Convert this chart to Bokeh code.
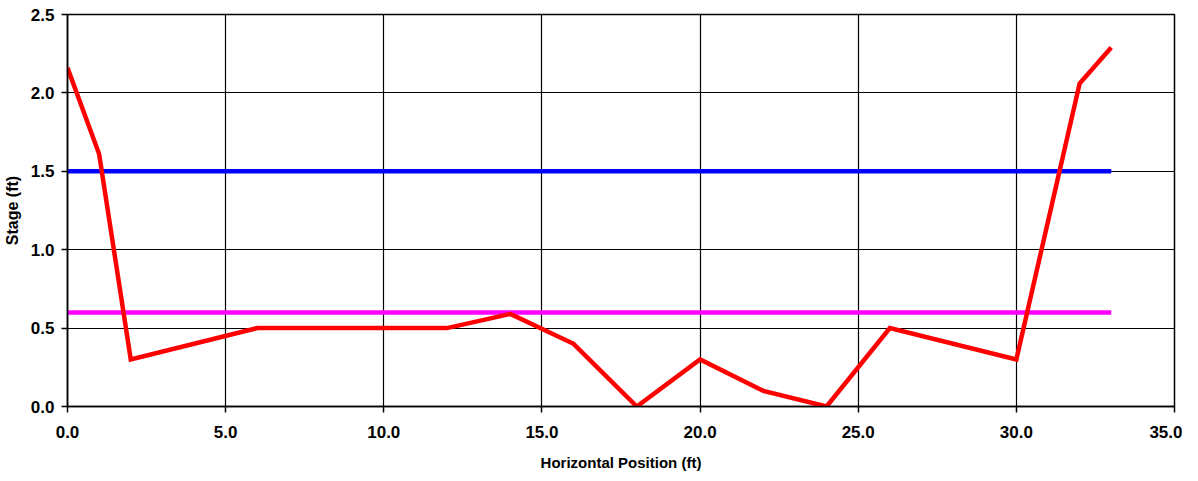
from bokeh.plotting import figure
from bokeh.models import Range1d, FixedTicker, NumeralTickFormatter
from bokeh.embed import file_html
from bokeh.resources import INLINE

# Data
x_profile = [0, 1, 2, 6, 12, 14, 16, 18, 20, 22, 24, 26, 30, 32, 33]
y_profile = [2.16, 1.61, 0.30, 0.50, 0.50, 0.59, 0.40, 0.0, 0.30, 0.10, 0.0, 0.50, 0.30, 2.06, 2.29]

x_stage = [0, 33]
y_stage_high = [1.5, 1.5]
y_stage_low = [0.6, 0.6]

x_ticks = [0, 5, 10, 15, 20, 25, 30, 35]
y_ticks = [0.0, 0.5, 1.0, 1.5, 2.0, 2.5]

FONT = "Liberation Sans"

p = figure(width=1182, height=473, output_backend="svg", toolbar_location=None,
           x_range=Range1d(0, 35), y_range=Range1d(0, 2.5),
           min_border_left=60, min_border_right=8, min_border_top=14, min_border_bottom=55)

p.line(x_stage, y_stage_high, line_color="#0000FF", line_width=4.5)
p.line(x_stage, y_stage_low, line_color="#FF00FF", line_width=4.5)
p.line(x_profile, y_profile, line_color="#FF0000", line_width=4.5, line_join="miter")

p.xaxis.ticker = FixedTicker(ticks=x_ticks)
p.yaxis.ticker = FixedTicker(ticks=y_ticks)
p.xaxis.formatter = NumeralTickFormatter(format="0.0")
p.yaxis.formatter = NumeralTickFormatter(format="0.0")

for ax in (p.xaxis, p.yaxis):
    ax.axis_line_color = "black"
    ax.axis_line_width = 1.5
    ax.major_tick_line_color = "black"
    ax.major_tick_line_width = 1.5
    ax.major_tick_in = 0
    ax.major_tick_out = 6
    ax.minor_tick_line_color = None
    ax.major_label_text_font = FONT
    ax.major_label_text_font_style = "bold"
    ax.major_label_text_font_size = "17px"
    ax.major_label_text_color = "black"
    ax.axis_label_text_font = FONT
    ax.axis_label_text_font_style = "bold"
    ax.axis_label_text_color = "black"

p.xaxis.axis_label_text_font_size = "15px"
p.yaxis.axis_label_text_font_size = "16px"
p.xaxis.axis_label = "Horizontal Position (ft)"
p.yaxis.axis_label = "Stage (ft)"
p.xaxis.major_label_standoff = 13
p.yaxis.major_label_standoff = 7
p.xaxis.axis_label_standoff = 13
p.yaxis.axis_label_standoff = 7

p.xgrid.grid_line_color = "black"
p.ygrid.grid_line_color = "black"
p.xgrid.grid_line_width = 1.2
p.ygrid.grid_line_width = 1.2
p.xgrid.grid_line_alpha = 1.0
p.ygrid.grid_line_alpha = 1.0

p.outline_line_color = "black"
p.outline_line_width = 1.5
p.background_fill_color = "white"
p.border_fill_color = "white"

open("out.html", "w").write(file_html(p, INLINE))
